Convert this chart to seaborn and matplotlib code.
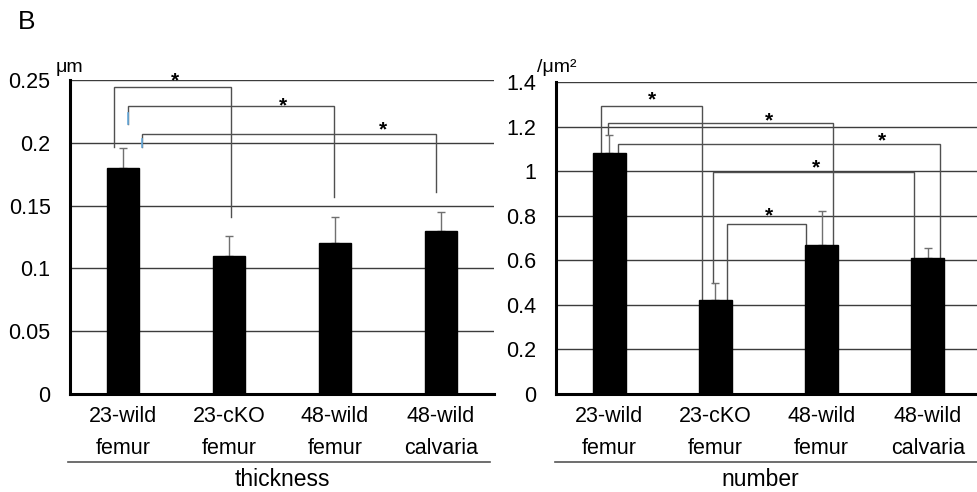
import matplotlib
matplotlib.use("Agg")
import matplotlib.pyplot as plt
from matplotlib.lines import Line2D
import seaborn as sns
import pandas as pd

groups = ["23-wild\nfemur", "23-cKO\nfemur", "48-wild\nfemur", "48-wild\ncalvaria"]

thickness = [0.18, 0.11, 0.12, 0.13]
thickness_err = [0.016, 0.016, 0.021, 0.015]
thickness_ticks = [0, 0.05, 0.1, 0.15, 0.2, 0.25]
thickness_ticklabels = ["0", "0.05", "0.1", "0.15", "0.2", "0.25"]

number = [1.08, 0.42, 0.67, 0.61]
number_err = [0.08, 0.08, 0.15, 0.045]
number_ticks = [0, 0.2, 0.4, 0.6, 0.8, 1.0, 1.2, 1.4]
number_ticklabels = ["0", "0.2", "0.4", "0.6", "0.8", "1", "1.2", "1.4"]

# significance brackets: (x_left, x_right, y_top, y_left_bottom, y_right_bottom, star_x, star_y)
thickness_brackets = [
    (-0.08, 1.02, 0.2445, 0.197, 0.141, 0.49, 0.254),
    (0.05, 1.99, 0.229, 0.215, 0.157, 1.51, 0.234),
    (0.18, 2.95, 0.207, 0.197, 0.161, 2.45, 0.215),
]
number_brackets = [
    (-0.08, 0.87, 1.292, 1.08, 0.42, 0.40, 1.346),
    (-0.01, 2.11, 1.216, 1.165, 0.67, 1.50, 1.252),
    (0.08, 3.11, 1.12, 1.08, 0.61, 2.57, 1.162),
    (0.98, 2.87, 0.996, 0.50, 0.61, 1.95, 1.04),
    (1.11, 1.85, 0.763, 0.42, 0.67, 1.50, 0.826),
]

plt.rcParams["font.family"] = ["Liberation Sans", "DejaVu Sans"]

fig = plt.figure(figsize=(9.77, 4.92), dpi=100)
ax1 = fig.add_axes([0.0716, 0.1992, 0.4340, 0.6382])
ax2 = fig.add_axes([0.5691, 0.1992, 0.4350, 0.6341])

grid_col = "#3c3c3c"
brk_col = "#505050"


def draw_panel(ax, vals, errs, ticks, ticklabels, brackets, ymax):
    df = pd.DataFrame({"group": groups, "value": vals})
    sns.barplot(data=df, x="group", y="value", color="black", width=0.31,
                saturation=1, ax=ax, zorder=3, edgecolor="black")
    ax.errorbar(range(len(vals)), vals, yerr=[[0] * len(vals), errs], fmt="none",
                ecolor="#707070", elinewidth=1.0, capsize=3, capthick=1.0, zorder=2)
    ax.set_xlim(-0.5, 3.5)
    ax.set_ylim(0, ymax)
    ax.set_yticks(ticks)
    ax.set_yticklabels(ticklabels)
    ax.set_xlabel("")
    ax.set_ylabel("")
    ax.tick_params(axis="both", length=0, labelsize=15.5, colors="black")
    ax.tick_params(axis="y", pad=14)
    ax.tick_params(axis="x", pad=9)
    for lab in ax.get_xticklabels():
        lab.set_linespacing(1.65)
    for t in ticks[1:]:
        ax.axhline(t, color=grid_col, lw=1.0, zorder=0)
    for side in ["top", "right"]:
        ax.spines[side].set_visible(False)
    for side in ["left", "bottom"]:
        ax.spines[side].set_linewidth(2.2)
        ax.spines[side].set_color("black")
        ax.spines[side].set_zorder(5)
    for xl, xr, yt, ylb, yrb, sx, sy in brackets:
        ax.plot([xl, xl, xr, xr], [ylb, yt, yt, yrb], color=brk_col, lw=1.0,
                zorder=1, solid_joinstyle="miter")
        ax.annotate("*", xy=(sx, sy), xytext=(0, -8), textcoords="offset points",
                    ha="center", va="baseline", fontsize=15, fontweight="bold",
                    color="black", annotation_clip=False)
    ax.set_facecolor("white")


draw_panel(ax1, thickness, thickness_err, thickness_ticks, thickness_ticklabels,
           thickness_brackets, 0.25)
draw_panel(ax2, number, number_err, number_ticks, number_ticklabels,
           number_brackets, 1.4)

# light blue leg segments in the thickness panel
ax1.plot([0.05, 0.05], [0.215, 0.224], color="#6aaee0", lw=1.2, zorder=2)
ax1.plot([0.18, 0.18], [0.197, 0.203], color="#6aaee0", lw=1.2, zorder=2)

# units
fig.text(0.057, 0.845, "μm", fontsize=14, ha="left", va="bottom")
fig.text(0.550, 0.845, "/μm²", fontsize=14, ha="left", va="bottom")

# group lines and names
fig.add_artist(Line2D([0.070, 0.502], [0.061, 0.061], color="#555555", lw=1.2))
fig.add_artist(Line2D([0.568, 1.0], [0.061, 0.061], color="#555555", lw=1.2))
fig.text(0.289, 0.026, "thickness", fontsize=16.5, ha="center", va="center")
fig.text(0.778, 0.026, "number", fontsize=16.5, ha="center", va="center")

fig.text(0.018, 0.955, "B", fontsize=19, ha="left", va="center")

fig.savefig("out.png", dpi=100, facecolor="white")
